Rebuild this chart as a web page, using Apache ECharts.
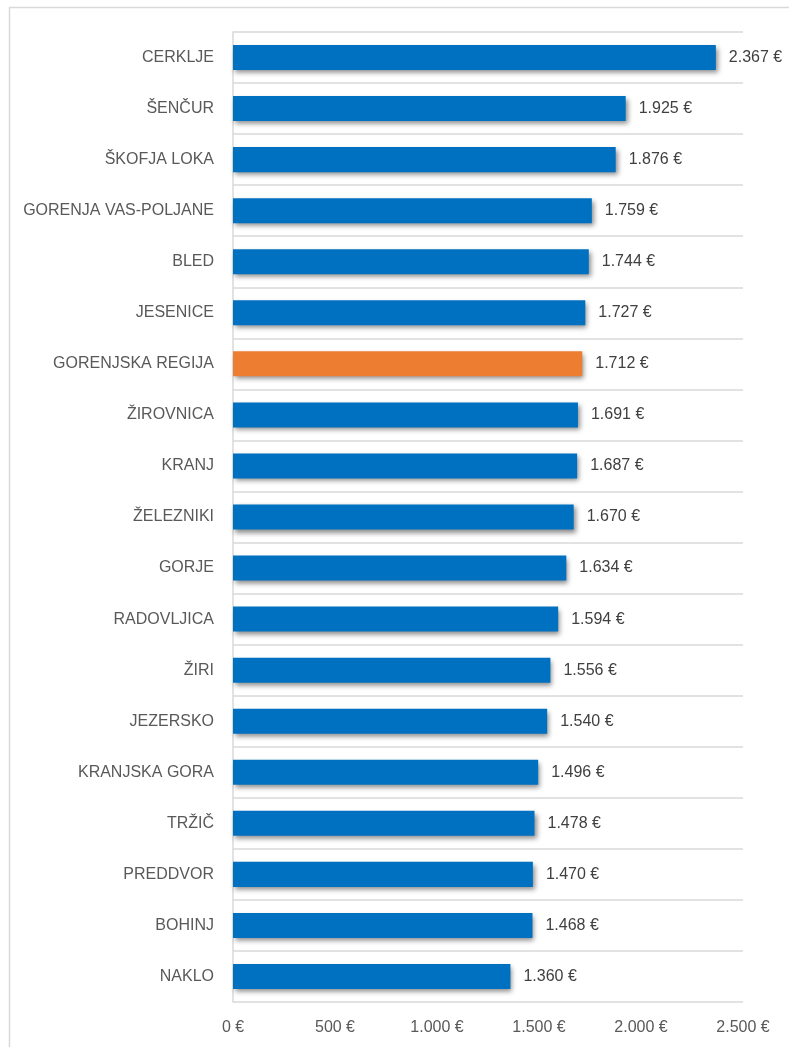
<!DOCTYPE html>
<html><head><meta charset="utf-8">
<script src="https://cdn.jsdelivr.net/npm/echarts@6/dist/echarts.min.js"></script>
<style>html,body{margin:0;padding:0;background:#fff}#c{width:789px;height:1047px}</style>
</head><body><div id="c"></div>
<script>
const categories = ["CERKLJE","ŠENČUR","ŠKOFJA LOKA","GORENJA VAS-POLJANE","BLED","JESENICE","GORENJSKA REGIJA","ŽIROVNICA","KRANJ","ŽELEZNIKI","GORJE","RADOVLJICA","ŽIRI","JEZERSKO","KRANJSKA GORA","TRŽIČ","PREDDVOR","BOHINJ","NAKLO"];
const values = [2367,1925,1876,1759,1744,1727,1712,1691,1687,1670,1634,1594,1556,1540,1496,1478,1470,1468,1360];
const highlight = "GORENJSKA REGIJA";
const xTicks = [0,500,1000,1500,2000,2500];

const fmt = v => String(v).replace(/\B(?=(\d{3})+(?!\d))/g, '.') + ' €';
const font = '"Liberation Sans", Arial, sans-serif';
const chart = echarts.init(document.getElementById('c'), null, {renderer:'canvas'});
chart.setOption({
  animation:false,
  backgroundColor:'#fff',
  graphic:[{type:'rect', shape:{x:9.5,y:7.5,width:900,height:1100}, style:{fill:'none', stroke:'#d9d9d9', lineWidth:1.5}, silent:true}],
  grid:{left:233, right:46, top:32, bottom:45, containLabel:false},
  xAxis:{type:'value', min:xTicks[0], max:xTicks[xTicks.length-1], interval:500,
    axisLine:{show:false}, axisTick:{show:false}, splitLine:{show:false},
    axisLabel:{formatter:fmt, color:'#595959', fontSize:16, fontFamily:font, margin:18}},
  yAxis:{type:'category', inverse:true, data:categories,
    axisLine:{show:true, lineStyle:{color:'#d9d9d9', width:1.5}}, axisTick:{show:false},
    splitLine:{show:true, lineStyle:{color:'#d9d9d9', width:1.5}},
    axisLabel:{color:'#595959', fontSize:16, fontFamily:font, margin:19}},
  series:[{type:'bar', barCategoryGap:'51%',
    data: values.map((v,i)=>({value:v, itemStyle:{color: categories[i]===highlight ? '#ED7D31' : '#0070C0'}})),
    itemStyle:{shadowColor:'rgba(0,0,0,0.45)', shadowBlur:5, shadowOffsetX:2, shadowOffsetY:3},
    label:{show:true, position:'right', distance:13, formatter:p=>fmt(p.value), color:'#404040', fontSize:16, fontFamily:font}
  }]
});
</script></body></html>
